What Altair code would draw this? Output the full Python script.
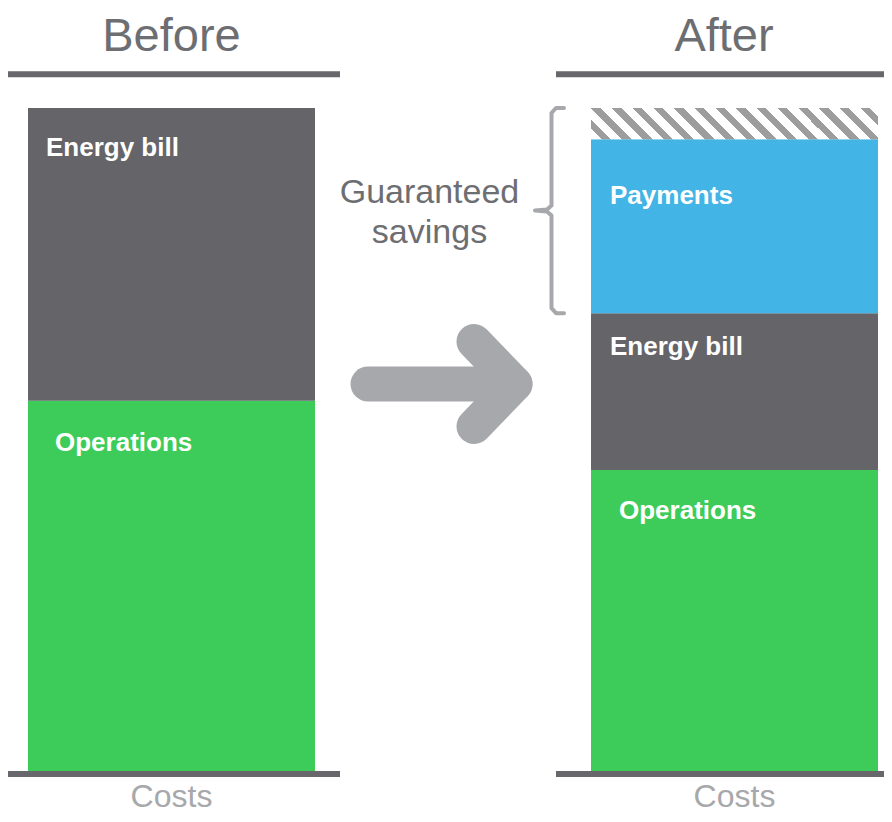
import math
import altair as alt
import pandas as pd

# ---------------- data ----------------
COLUMNS = ["Before", "After"]
SEGMENTS = ["Operations", "Energy bill", "Payments", "Guaranteed savings"]
BEFORE_VALUES = [55.9, 44.1, 0.0, 0.0]
AFTER_VALUES = [45.5, 23.6, 26.2, 4.7]
LABELLED = [("Before", "Energy bill"), ("Before", "Operations"),
            ("After", "Payments"), ("After", "Energy bill"), ("After", "Operations")]
TITLES = ["Before", "After"]
AXIS_LABEL = "Costs"
BRACE_TEXT = ["Guaranteed", "savings"]

# ---------------- style / layout ----------------
FONT = "Liberation Sans"
GREEN = "#3dcc5a"
DARK = "#646469"
BLUE = "#42b4e5"
HATCH = "#9d9d9d"
LINE = "#67676c"
TITLE_C = "#6d6e72"
LIGHT = "#a7a8ab"

W, H = 876, 806
OFF = 8                      # page margin
BASE_PX = 772                # page y of value 0
UNIT_PX = 6.64               # pixels per cost unit
BAR_LEFT = [28, 591]         # page x of bar starts
BAR_W = 287


def px(v):
    return v - OFF


# band scale parameters so bars land where wanted
b1, b2 = px(BAR_LEFT[0]), px(BAR_LEFT[1])
step = b2 - b1
p_in = 1 - BAR_W / step
p_out = (W / step - 2 + p_in) / 2
align = b1 / (W - step * (2 - p_in))
XB = alt.Scale(type="band", domain=COLUMNS, paddingInner=p_in, paddingOuter=p_out, align=align)

y_lo = (BASE_PX - (OFF + H)) / UNIT_PX
y_hi = (BASE_PX - OFF) / UNIT_PX
YC = alt.Scale(domain=[y_lo, y_hi], nice=False, zero=False)
XP = alt.Scale(domain=[OFF, OFF + W], nice=False, zero=False)
YP = alt.Scale(domain=[OFF, OFF + H], nice=False, zero=False, reverse=True)

# ---------------- tables ----------------
rows = []
for col, vals in zip(COLUMNS, [BEFORE_VALUES, AFTER_VALUES]):
    cum = 0.0
    for seg, v in zip(SEGMENTS, vals):
        if v > 0:
            rows.append({"col": col, "seg": seg, "y0": cum, "y1": cum + v})
            cum += v
bars = pd.DataFrame(rows)
solid = bars[bars.seg != "Guaranteed savings"]
sav = bars[bars.seg == "Guaranteed savings"]

bar_layer = alt.Chart(solid).mark_bar().encode(
    x=alt.X("col:N", scale=XB, axis=None),
    y=alt.Y("y0:Q", scale=YC, axis=None),
    y2="y1:Q",
    color=alt.Color("seg:N", scale=alt.Scale(domain=SEGMENTS[:3], range=[GREEN, DARK, BLUE]), legend=None),
)

# hatch as a hard-stop linear gradient (objectBoundingBox units)
sav_h = float(sav.y1.iloc[0] - sav.y0.iloc[0]) * UNIT_PX
theta = math.radians(45)
period_h = 20.7
gray_frac = 0.45
a = BAR_W * math.sin(theta)
b = sav_h * math.cos(theta)
k = (a + b) / (a * a + b * b)
vx, vy = k * a, -k * b
span = BAR_W * math.sin(theta) + sav_h * math.cos(theta)
dt = period_h * math.sin(theta) / span
t_tl = sav_h * math.cos(theta) / span


def col_at(t):
    f = ((t - t_tl) / dt) % 1.0
    return HATCH if f < gray_frac else "#ffffff"


bounds = set()
m = -int(1 / dt) - 3
while t_tl + m * dt < 1.0 + dt:
    for e in (t_tl + m * dt, t_tl + (m + gray_frac) * dt):
        if 0 < e < 1:
            bounds.add(round(e, 6))
    m += 1
pts = [0.0] + sorted(bounds) + [1.0]
stops = []
for i in range(len(pts) - 1):
    c = col_at((pts[i] + pts[i + 1]) / 2)
    stops.append(alt.GradientStop(offset=pts[i], color=c))
    stops.append(alt.GradientStop(offset=pts[i + 1], color=c))
grad = alt.LinearGradient(gradient="linear", stops=stops, x1=0, y1=1, x2=vx, y2=1 + vy)

sav_layer = alt.Chart(sav).mark_bar(fill=grad).encode(
    x=alt.X("col:N", scale=XB, axis=None),
    y=alt.Y("y0:Q", scale=YC, axis=None),
    y2="y1:Q",
)

# segment labels
LABEL_DX = {("Before", "Energy bill"): 18, ("Before", "Operations"): 27,
            ("After", "Payments"): 19, ("After", "Energy bill"): 19, ("After", "Operations"): 28}
LABEL_DY = {("Before", "Energy bill"): 48, ("Before", "Operations"): 50,
            ("After", "Payments"): 65, ("After", "Energy bill"): 42, ("After", "Operations"): 49}
label_layers = []
for col, seg in LABELLED:
    d = bars[(bars.col == col) & (bars.seg == seg)]
    label_layers.append(
        alt.Chart(d).mark_text(font=FONT, fontSize=26, fontWeight="bold", color="white",
                               align="left", baseline="alphabetic",
                               dx=LABEL_DX[(col, seg)], dy=LABEL_DY[(col, seg)]).encode(
            x=alt.X("col:N", scale=XB, axis=None, bandPosition=0),
            y=alt.Y("y1:Q", scale=YC, axis=None),
            text="seg:N",
        )
    )

one = pd.DataFrame({"k": [0]})

# rules above and below
rule_layers = []
for x0, x1 in [(3, 340), (556, OFF + W)]:
    for yy in (74.3, 774):
        rule_layers.append(alt.Chart(one).mark_rule(color=LINE, strokeWidth=6).encode(
            x=alt.value(max(0, px(x0))), x2=alt.value(px(x1)), y=alt.value(px(yy))))

# titles
title_layers = []
for t, cx in zip(TITLES, [171.5, 724]):
    title_layers.append(alt.Chart(pd.DataFrame({"t": [t]})).mark_text(
        font=FONT, fontSize=47, color=TITLE_C, align="center", baseline="alphabetic").encode(
        x=alt.value(px(cx)), y=alt.value(px(51)), text="t:N"))

costs_layer = alt.Chart(pd.DataFrame({"col": COLUMNS, "t": [AXIS_LABEL] * 2})).mark_text(
    font=FONT, fontSize=32, color=LIGHT, align="center", baseline="alphabetic").encode(
    x=alt.X("col:N", scale=XB, axis=None, bandPosition=0.5),
    y=alt.value(px(806.5)),
    text="t:N",
)

gs_layers = []
for t, by in zip(BRACE_TEXT, [203, 243]):
    gs_layers.append(alt.Chart(pd.DataFrame({"t": [t]})).mark_text(
        font=FONT, fontSize=34, color=TITLE_C, align="center", baseline="alphabetic").encode(
        x=alt.value(px(429.5)), y=alt.value(px(by)), text="t:N"))

# brace spanning payments + savings
after_top = sum(AFTER_VALUES)
after_mid_top = AFTER_VALUES[0] + AFTER_VALUES[1]
mid = (after_top + after_mid_top) / 2
r = 5 / UNIT_PX
brace = pd.DataFrame({
    "bx": [564, 556, 551.5, 551.5, 547, 535, 547, 551.5, 551.5, 556, 564],
    "by": [after_top, after_top, after_top - r, mid + r, mid + 0.15, mid,
           mid - 0.15, mid - r, after_mid_top + r, after_mid_top, after_mid_top],
})
brace["o"] = range(len(brace))
brace_layer = alt.Chart(brace).mark_line(color=LIGHT, strokeWidth=4, strokeCap="round",
                                         strokeJoin="round").encode(
    x=alt.X("bx:Q", scale=XP, axis=None),
    y=alt.Y("by:Q", scale=YC, axis=None),
    order="o:Q",
)

# arrow
arrow = pd.DataFrame({
    "ax": [368, 515, 474, 515, 474],
    "ay": [384, 384, 341.5, 384, 426.5],
    "part": ["shaft", "shaft", "head", "head", "head"],
    "o": [0, 1, 0, 1, 2],
})
arrow_layer = alt.Chart(arrow).mark_line(color=LIGHT, strokeWidth=35, strokeCap="round",
                                         strokeJoin="round").encode(
    x=alt.X("ax:Q", scale=XP, axis=None),
    y=alt.Y("ay:Q", scale=YP, axis=None),
    detail="part:N",
    order="o:Q",
)

chart = alt.layer(
    bar_layer, sav_layer, *label_layers, *rule_layers, *title_layers, costs_layer,
    *gs_layers, brace_layer, arrow_layer,
).resolve_scale(x="independent", y="independent").properties(
    width=W, height=H, autosize="none", padding=0, background="white"
).configure_view(stroke=None)

chart.save("out.html", embed_options={"renderer": "svg", "actions": False})
